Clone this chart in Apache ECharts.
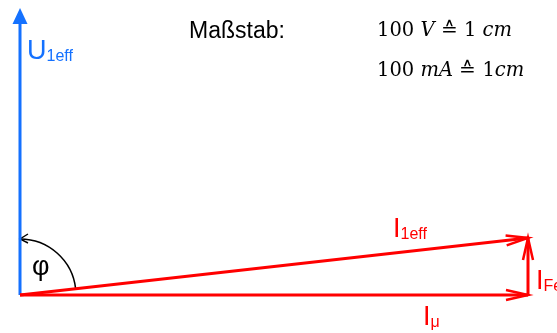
<!DOCTYPE html>
<html><head><meta charset="utf-8">
<script src="https://cdn.jsdelivr.net/npm/echarts@6/dist/echarts.min.js"></script>
<style>html,body{margin:0;padding:0;background:#fff}#c{width:557px;height:333px}</style>
</head><body><div id="c"></div>
<script>
// Phasor data (V and mA drawn on the same scale: 100 ≙ 1 cm)
const phasorNames  = ['U1eff', 'Iμ', 'IFe', 'I1eff'];
const labelMain    = ['U', 'I', 'I', 'I'];
const labelSub     = ['1eff', 'μ', 'Fe', '1eff'];
const phasorStartX = [0, 0, 1016, 0];
const phasorStartY = [0, 0, 0, 0];
const phasorEndX   = [0, 1016, 1016, 1016];
const phasorEndY   = [574, 0, 114, 114];
const axisMaxX = 1074;
const axisMaxY = 574;
const scaleTitle = 'Maßstab:';
const scaleLine1 = ['100 ', 'V', ' ≙ 1 ', 'cm'];
const scaleLine2 = ['100 ', 'mA', ' ≙ 1', 'cm'];
const angleLabel = 'φ';

// styles (not data)
const BLUE = '#1471ff', RED = '#ff0000';
const phStyle = [
  {color: BLUE, head: 'filled', off: [7, 52]},
  {color: RED, head: 'open', off: [-105, 31]},
  {color: RED, head: 'open', off: [8, 52]},
  {color: RED, head: 'open', off: [-135, 0]}
];

const data = phasorNames.map((n, i) => [phasorStartX[i], phasorStartY[i], phasorEndX[i], phasorEndY[i]]);

function renderPhasor(params, api) {
  const i = params.dataIndex;
  const st = phStyle[i];
  const p0 = api.coord([api.value(0), api.value(1)]);
  const p1 = api.coord([api.value(2), api.value(3)]);
  const dx = p1[0] - p0[0], dy = p1[1] - p0[1];
  const L = Math.hypot(dx, dy);
  const ux = dx / L, uy = dy / L, nx = -uy, ny = ux;
  const children = [];
  if (st.head === 'filled') {
    const hl = 16, hw = 7.5;
    children.push({type: 'line', shape: {x1: p0[0], y1: p0[1], x2: p1[0] - ux * (hl - 2), y2: p1[1] - uy * (hl - 2)},
      style: {stroke: st.color, lineWidth: 3}});
    children.push({type: 'polygon', shape: {points: [p1,
      [p1[0] - ux * hl + nx * hw, p1[1] - uy * hl + ny * hw],
      [p1[0] - ux * hl - nx * hw, p1[1] - uy * hl - ny * hw]]}, style: {fill: st.color}});
  } else {
    const hl = 22, hw = 5;
    children.push({type: 'line', shape: {x1: p0[0], y1: p0[1], x2: p1[0], y2: p1[1]},
      style: {stroke: st.color, lineWidth: 3}});
    children.push({type: 'polyline', shape: {points: [
      [p1[0] - ux * hl + nx * hw, p1[1] - uy * hl + ny * hw], p1,
      [p1[0] - ux * hl - nx * hw, p1[1] - uy * hl - ny * hw]]},
      style: {stroke: st.color, lineWidth: 2.5, fill: null, lineJoin: 'miter'}});
  }
  children.push({type: 'text', style: {
    x: p1[0] + st.off[0], y: p1[1] + st.off[1] + 5,
    text: '{m|' + labelMain[i] + '}{s|' + labelSub[i] + '}',
    align: 'left', verticalAlign: 'bottom',
    rich: {
      m: {fontSize: 27, fontFamily: 'Liberation Sans, Arial', fill: st.color, lineHeight: 30, verticalAlign: 'bottom'},
      s: {fontSize: 16, fontFamily: 'Liberation Sans, Arial', fill: st.color, lineHeight: 23, verticalAlign: 'bottom'}
    }
  }});
  return {type: 'group', children: children};
}

function renderAngle(params, api) {
  const o = api.coord([0, 0]);
  const a = api.coord([phasorEndX[3], phasorEndY[3]]);
  const r = 56;
  const start = Math.atan2(a[1] - o[1], a[0] - o[0]);
  const end = -Math.PI / 2;
  const tip = [o[0], o[1] - r];
  return {type: 'group', children: [
    {type: 'arc', shape: {cx: o[0], cy: o[1], r: r, startAngle: start, endAngle: end, clockwise: false},
      style: {stroke: '#000', lineWidth: 1.6, fill: null}},
    {type: 'polyline', shape: {points: [[tip[0] + 8, tip[1] - 5], tip, [tip[0] + 8, tip[1] + 4]]},
      style: {stroke: '#000', lineWidth: 1.4, fill: null}},
    {type: 'text', style: {x: o[0] + 12, y: o[1] - 41, text: angleLabel, font: '27px "Liberation Sans"', fill: '#000',
      align: 'left', verticalAlign: 'top'}}
  ]};
}

const serifN = '19.5px "DejaVu Serif"', serifI = 'italic 19.5px "DejaVu Serif"';
const chart = echarts.init(document.getElementById('c'), null, {renderer: 'canvas'});
chart.setOption({
  animation: false,
  backgroundColor: '#fff',
  grid: {left: 20, right: 0, top: 8, bottom: 38},
  xAxis: {type: 'value', min: 0, max: axisMaxX, show: false},
  yAxis: {type: 'value', min: 0, max: axisMaxY, show: false},
  graphic: [
    {type: 'text', left: 189, top: 20, style: {text: scaleTitle, font: '23px "Liberation Sans", Arial', fill: '#000'}},
    {type: 'text', left: 377, top: 21, style: {
      text: '{n|' + scaleLine1[0] + '}{i|' + scaleLine1[1] + '}{n|' + scaleLine1[2] + '}{i|' + scaleLine1[3] + '}',
      rich: {n: {font: serifN, fill: '#000'}, i: {font: serifI, fill: '#000'}}}},
    {type: 'text', left: 377, top: 61, style: {
      text: '{n|' + scaleLine2[0] + '}{i|' + scaleLine2[1] + '}{n|' + scaleLine2[2] + '}{i|' + scaleLine2[3] + '}',
      rich: {n: {font: serifN, fill: '#000'}, i: {font: serifI, fill: '#000'}}}}
  ],
  series: [
    {type: 'custom', coordinateSystem: 'cartesian2d', clip: false, renderItem: renderAngle, data: [[0, 0]], silent: true, z: 1},
    {type: 'custom', coordinateSystem: 'cartesian2d', clip: false, renderItem: renderPhasor, data: data, silent: true, z: 2,
      encode: {x: [0, 2], y: [1, 3]}}
  ]
});
</script></body></html>
